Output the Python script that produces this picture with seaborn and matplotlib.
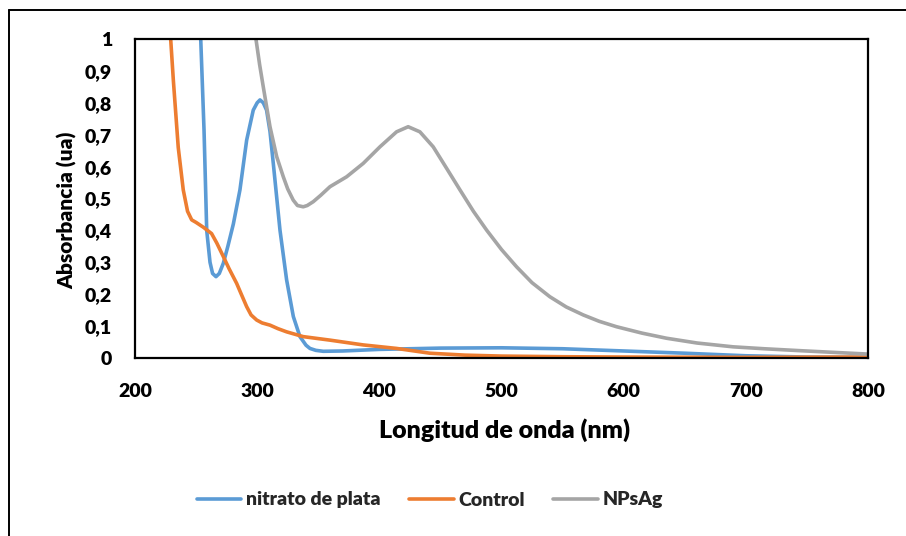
import matplotlib
matplotlib.use("Agg")
import matplotlib.pyplot as plt
from matplotlib.lines import Line2D
import seaborn as sns
import pandas as pd

# ---- data ----
nitrato_x = [240, 252, 253.8, 256.5, 258.7, 261.4, 263.5, 266.3, 269, 272.3, 276, 280.5, 285.9,
             291.4, 296.8, 300, 302.3, 305, 307.7, 310.5, 313.2, 318.7, 324.1, 329.6, 335, 340,
             343.2, 348, 354.1, 370, 400, 450, 500, 550, 600, 650, 700, 750, 800]
nitrato_y = [1.6, 1.1, 1.0, 0.715, 0.40, 0.30, 0.265, 0.255, 0.265, 0.297, 0.35, 0.42, 0.527,
             0.683, 0.777, 0.80, 0.809, 0.80, 0.777, 0.71, 0.61, 0.40, 0.245, 0.13, 0.067, 0.04,
             0.030, 0.024, 0.021, 0.022, 0.027, 0.031, 0.032, 0.029, 0.022, 0.015, 0.007, 0.003, 0.002]

control_x = [225, 229.2, 231.4, 235.4, 239.5, 243, 246.4, 250, 255.9, 262.7, 267, 272.3, 277,
             283.2, 287, 291.4, 295, 299.6, 304, 310.5, 317, 324.1, 337.7, 359.6, 386.8, 414.1,
             441.4, 470, 500, 550, 600, 700, 800]
control_y = [1.3, 1.0, 0.87, 0.66, 0.527, 0.46, 0.433, 0.425, 0.41, 0.39, 0.36, 0.318, 0.28,
             0.234, 0.20, 0.161, 0.135, 0.119, 0.11, 0.103, 0.092, 0.082, 0.067, 0.056, 0.041, 0.030,
             0.015, 0.009, 0.006, 0.004, 0.003, 0.002, 0.003]

npsag_x = [296, 299, 302, 305, 310.5, 316, 321.4, 325, 329.5, 333, 337.7, 341, 345.9, 352, 359.6,
           373.2, 386.8, 400.5, 414.1, 423.6, 433.2, 444.1, 455, 466, 477, 487.8, 500, 512.3, 525,
           539.6, 553, 566.9, 580, 594.2, 615, 635, 660, 689.6, 715, 744.2, 770, 798.8, 800]
npsag_y = [1.12, 1.0, 0.92, 0.85, 0.725, 0.631, 0.568, 0.53, 0.495, 0.478, 0.474, 0.478, 0.49,
           0.51, 0.537, 0.568, 0.61, 0.662, 0.709, 0.725, 0.709, 0.662, 0.595, 0.527, 0.46, 0.401,
           0.34, 0.286, 0.236, 0.192, 0.16, 0.135, 0.115, 0.098, 0.078, 0.062, 0.047, 0.035, 0.029,
           0.023, 0.018, 0.0125, 0.012]

series_names = ["nitrato de plata", "Control", "NPsAg"]
series_colors = ["#5B9BD5", "#ED7D31", "#A5A5A5"]
x_ticks = [200, 300, 400, 500, 600, 700, 800]
y_ticks = [0, 0.1, 0.2, 0.3, 0.4, 0.5, 0.6, 0.7, 0.8, 0.9, 1]
y_tick_labels = ["0", "0,1", "0,2", "0,3", "0,4", "0,5", "0,6", "0,7", "0,8", "0,9", "1"]

df = pd.concat([
    pd.DataFrame({"x": nitrato_x, "y": nitrato_y, "serie": series_names[0]}),
    pd.DataFrame({"x": control_x, "y": control_y, "serie": series_names[1]}),
    pd.DataFrame({"x": npsag_x, "y": npsag_y, "serie": series_names[2]}),
], ignore_index=True)

sns.set_theme(style="white")
plt.rcParams["font.family"] = ["Lato", "DejaVu Sans"]
plt.rcParams["font.weight"] = "heavy"
TW = "heavy"

W, H = 906, 536
fig = plt.figure(figsize=(W / 100, H / 100), dpi=100)
ax = fig.add_axes([135 / W, 1 - 358 / H, (868 - 135) / W, (358 - 39) / H])

sns.lineplot(data=df, x="x", y="y", hue="serie", hue_order=series_names,
             palette=series_colors, linewidth=2.6, ax=ax, legend=False,
             estimator=None, sort=False)

ax.set_xlim(200, 800)
ax.set_ylim(0, 1)
ax.set_xticks(x_ticks)
ax.set_xticklabels([str(t) for t in x_ticks])
ax.set_yticks(y_ticks)
ax.set_yticklabels(y_tick_labels)
ax.tick_params(axis="both", length=0, labelsize=14, colors="black")
ax.tick_params(axis="x", pad=18)
ax.tick_params(axis="y", pad=16.5)
for lab in ax.get_xticklabels() + ax.get_yticklabels():
    lab.set_fontweight(TW)
for s in ax.spines.values():
    s.set_color("black")
    s.set_linewidth(1.6)
    s.set_visible(True)
ax.grid(False)

ax.set_xlabel("Longitud de onda (nm)", fontsize=18, fontweight=TW, color="black")
ax.set_ylabel("Absorbancia (ua)", fontsize=15, fontweight=TW, color="black")
ax.xaxis.set_label_coords((505 - 135) / 733, (358 - 418) / 319)
ax.yaxis.set_label_coords((77 - 135) / 733, (358 - 210) / 319)

handles = [Line2D([0], [0], color=c, linewidth=2.6) for c in series_colors]
fig.legend(handles, series_names, loc="center", bbox_to_anchor=(430 / W, 1 - 500 / H),
           ncol=3, frameon=False, handlelength=2.3, handletextpad=0.26, columnspacing=1.44,
           prop={"family": ["Lato", "DejaVu Sans"], "weight": TW, "size": 14})

# outer chart border (top and left edges visible)
fig.add_artist(Line2D([9 / W, 1], [1 - 10 / H, 1 - 10 / H], transform=fig.transFigure,
                      color="black", linewidth=1.4))
fig.add_artist(Line2D([9 / W, 9 / W], [0, 1 - 10 / H], transform=fig.transFigure,
                      color="black", linewidth=1.4))

fig.savefig("out.png", dpi=100)
